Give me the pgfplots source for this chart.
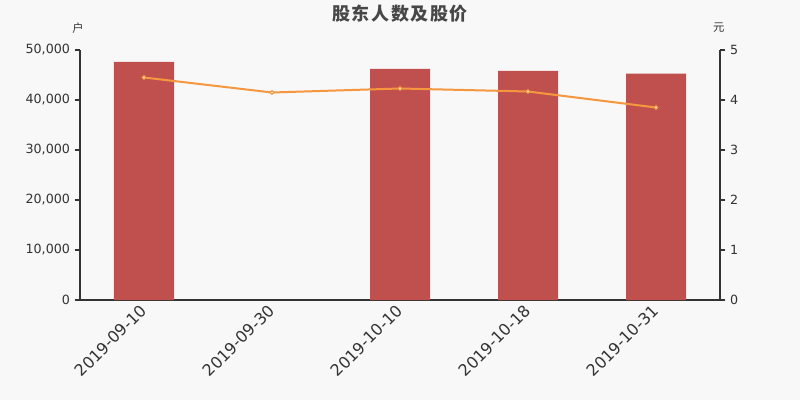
\documentclass[border=0pt]{standalone}
\usepackage{pgfplots}
\pgfplotsset{compat=1.18}
\usepackage{fontspec}
\setmainfont{DejaVu Sans}
\newfontfamily\cjk{Noto Sans CJK SC}
\newfontfamily\cjktitle[LetterSpace=9]{Noto Sans CJK SC}
\definecolor{bg}{HTML}{F8F8F8}
\definecolor{barc}{HTML}{C0504D}
\definecolor{linec}{HTML}{F5973F}
\definecolor{txt}{HTML}{333333}
\begin{document}
\begin{tikzpicture}
\fill[bg] (0pt,0pt) rectangle (600pt,300pt);
\useasboundingbox (0pt,0pt) rectangle (600pt,300pt);
\node[font=\cjktitle\bfseries\fontsize{13.5}{15}\selectfont, text=txt!90] at (300pt,290pt) {股东人数及股价};
\node[font=\cjk\fontsize{8.5}{10}\selectfont, text=txt] at (58.5pt,279pt) {户};
\node[font=\cjk\fontsize{8.5}{10}\selectfont, text=txt] at (539pt,279pt) {元};
\begin{axis}[
  at={(60pt,75pt)}, anchor=south west,
  width=480pt, height=187.5pt, scale only axis,
  xmin=-0.5, xmax=4.5, ymin=0, ymax=50000,
  axis y line*=left, axis x line*=bottom,
  axis line style={txt, line width=0.8pt},
  xtick={0,1,2,3,4},
  xticklabels={2019-09-10,2019-09-30,2019-10-10,2019-10-18,2019-10-31},
  x tick label style={rotate=45, anchor=east, font=\fontsize{12}{14}\selectfont, text=txt, xshift=2pt, yshift=-1pt},
  x tick style={draw=none},
  extra x ticks={-0.5,0.5,1.5,2.5,3.5,4.5},
  extra x tick labels={},
  extra x tick style={major tick length=4pt, tick style={draw=txt, line width=0.8pt}, tick align=outside},
  ytick={0,10000,20000,30000,40000,50000},
  y tick label style={font=\fontsize{9.5}{11}\selectfont, text=txt},
  /pgf/number format/1000 sep={,},
  /pgf/number format/assume math mode=true,
  scaled y ticks=false,
  tick align=outside, major tick length=4pt,
  y tick style={draw=txt, line width=0.8pt},
  clip=false,
]
\addplot[ybar, bar width=45pt, fill=barc, draw=none] coordinates {
(0,47600) (2,46200) (3,45800) (4,45250)
};
\end{axis}
\begin{axis}[
  at={(60pt,75pt)}, anchor=south west,
  width=480pt, height=187.5pt, scale only axis,
  xmin=-0.5, xmax=4.5, ymin=0, ymax=5,
  axis y line*=right, axis x line=none,
  axis line style={txt, line width=0.8pt},
  ytick={0,1,2,3,4,5},
  y tick label style={font=\fontsize{9.5}{11}\selectfont, text=txt},
  /pgf/number format/assume math mode=true,
  tick align=outside, major tick length=4pt,
  y tick style={draw=txt, line width=0.8pt},
  clip=false,
]
\addplot[linec, line width=1.5pt, mark=*, mark size=1.4pt, mark options={fill=white, draw=linec, line width=0.8pt}] coordinates {
(0,4.45) (1,4.15) (2,4.23) (3,4.17) (4,3.85)
};
\end{axis}
\end{tikzpicture}
\end{document}
